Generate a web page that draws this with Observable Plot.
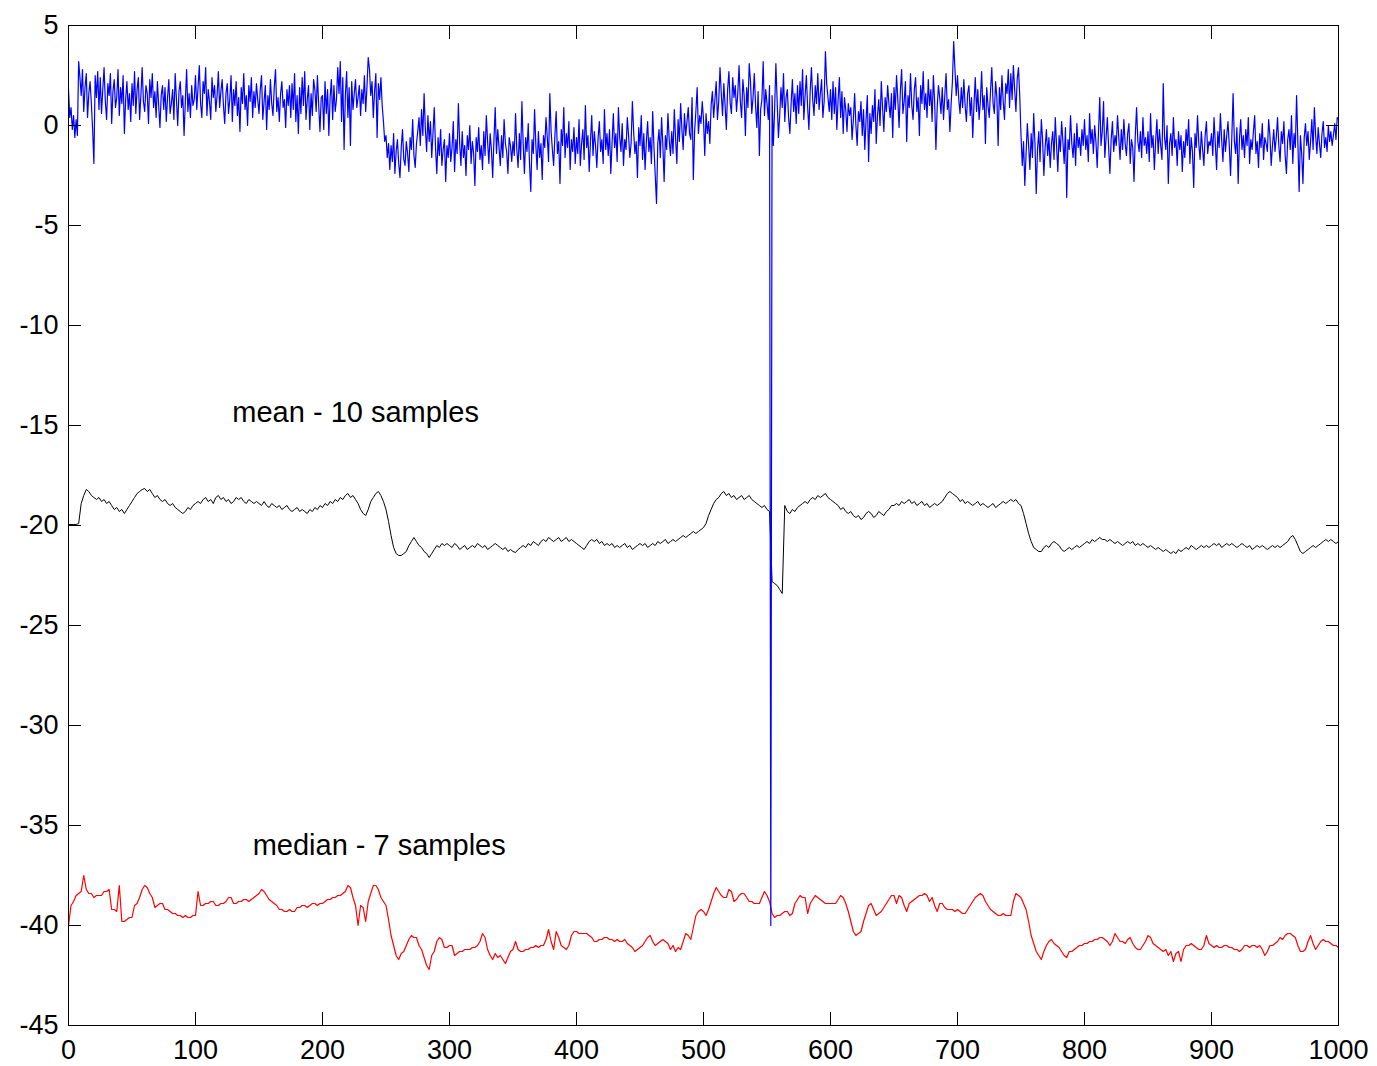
<!DOCTYPE html>
<html><head><meta charset="utf-8">
<script src="https://cdn.jsdelivr.net/npm/d3@7"></script>
<script src="https://cdn.jsdelivr.net/npm/@observablehq/plot@0.6"></script>
<style>html,body{margin:0;padding:0;background:#fff}#chart svg{display:block}</style>
</head><body><div id="chart"></div>
<script>
const xTicks = [0,100,200,300,400,500,600,700,800,900,1000];
const yTicks = [5,0,-5,-10,-15,-20,-25,-30,-35,-40,-45];

// raw signal, one value per sample (0..1000)
const rawSignal = [
1.8,0.4,0.9,-0.2,0.5,-0.6,0.3,-0.5,3.2,2.4,1.5,2.8,0.7,1.9,2.6,0.4,1.6,2.2,1.1,-0.2,-1.9,2.5,1.4,2.7,0.8,
2.4,0.6,1.8,2.9,1.2,0.3,2.1,1.5,2.6,0.1,1.7,2.3,0.9,1.4,2.8,0.5,1.9,1.1,2.5,-0.4,1.3,2.2,0.8,1.6,0.2,
2.1,1.0,2.7,0.6,1.8,2.4,0.3,1.5,2.9,1.2,0.7,2.0,1.6,0.1,2.3,1.4,2.6,0.9,1.7,0.4,2.2,1.0,-0.1,1.5,2.0,
0.8,1.9,0.2,1.4,2.3,0.6,1.1,1.8,0.3,2.6,1.3,0.0,1.7,2.2,0.9,1.5,-0.5,1.2,2.8,0.7,1.6,0.4,2.0,1.0,1.3,
2.5,0.8,1.9,3.0,1.1,0.4,2.2,1.6,2.9,0.5,1.8,1.2,0.3,2.4,1.4,2.0,0.7,1.5,2.7,0.9,1.7,2.3,1.0,0.1,1.6,
2.1,0.6,1.3,2.5,0.2,1.8,1.0,2.2,0.5,1.4,-0.3,1.9,1.1,2.6,0.8,1.5,0.0,2.0,1.2,2.4,0.4,1.7,0.9,2.1,1.3,
0.6,1.8,2.5,0.3,1.2,2.0,-0.2,1.5,0.8,2.3,1.1,0.5,1.9,2.8,0.7,1.4,0.2,1.6,2.2,0.9,1.3,-0.1,1.8,1.0,2.0,
0.4,2.1,0.8,2.6,0.2,1.5,-0.4,1.9,0.6,2.4,1.0,2.7,0.3,1.3,2.0,-0.2,1.6,0.5,2.3,1.8,0.7,2.5,1.0,-0.3,1.4,
1.5,-0.2,2.2,0.6,1.8,-0.5,1.4,2.3,0.3,2.0,0.7,1.3,2.9,1.6,3.2,0.2,2.4,-1.2,1.5,2.7,0.4,1.9,-1.0,2.2,0.8,
1.6,2.3,0.9,1.4,2.0,0.5,1.8,1.1,2.5,0.7,1.9,3.4,2.8,1.5,2.2,0.4,1.7,2.6,-0.6,2.1,1.3,2.4,1.0,0.2,-0.8,
-0.5,-1.6,-0.9,-2.2,-1.0,-1.8,-0.4,-2.4,-1.3,-0.7,-1.9,-2.6,-1.1,-0.2,-1.7,-2.0,-0.8,-1.4,-2.3,-0.6,-1.2,0.3,-1.5,-2.1,-0.9,
-0.3,0.4,-1.0,0.8,-0.5,1.6,-0.2,-1.3,0.5,-0.8,0.2,-1.6,-0.4,0.9,-1.1,-2.4,-0.6,-1.5,-0.2,-2.0,-1.2,-0.7,-2.8,-1.0,-1.6,
-0.4,-1.8,-1.1,0.2,-2.3,-0.7,-1.4,1.1,-0.9,-2.0,-0.3,-1.6,-1.0,-2.5,-0.5,-1.2,0.0,-1.9,-0.8,-1.4,-3.0,-0.6,-1.3,-0.1,-1.7,
-1.0,-2.2,-0.3,-1.5,0.5,-0.8,-1.9,-0.4,-1.2,-2.6,-0.7,0.9,-1.4,-0.2,-1.1,-2.0,-0.5,-1.6,0.3,-0.9,-1.3,-2.4,-0.6,-1.0,-1.8,
-0.8,-1.5,0.6,-1.2,-2.1,-0.4,-1.7,1.2,-0.9,-2.4,-0.6,-1.3,0.1,-1.9,-3.3,-0.7,-1.4,0.8,-1.0,-2.2,-0.3,-1.6,-0.9,-2.7,-0.5,
-1.1,0.4,-0.6,-1.8,1.6,-0.3,-1.2,-2.0,-0.5,0.7,-1.4,-0.8,-2.9,-0.2,-1.0,0.9,-1.6,-0.4,-1.1,0.2,-2.2,-0.7,-1.3,-0.1,-1.9,
-0.6,-1.4,0.3,-2.0,-0.9,-0.2,-1.7,1.0,-1.1,-0.5,-2.3,-0.8,0.5,-1.5,-0.3,-1.0,-2.1,-0.6,0.2,-1.3,-0.7,-1.9,0.8,-1.2,-0.4,
-1.5,-0.2,-2.4,-0.9,0.6,-1.1,-0.4,-1.8,0.9,-0.6,-1.3,0.1,-2.0,-0.7,-1.2,0.4,-0.5,-1.6,-0.9,1.2,-0.3,-1.4,-0.8,-2.6,-0.1,
-1.0,0.5,-1.7,-0.4,-2.2,-0.8,0.2,-1.3,-0.6,-1.9,0.7,-1.1,-2.5,-3.9,-0.9,-0.2,-1.6,0.4,-1.0,-2.8,-0.5,-1.2,0.6,-0.7,-1.5,
-0.3,-1.4,0.8,-0.6,-1.9,0.3,-0.8,1.1,-0.2,-1.2,0.6,-0.5,0.2,0.9,-0.4,-0.7,1.4,-2.7,-0.3,0.7,1.9,-0.4,0.5,0.1,1.2,
0.3,-1.5,0.6,-0.4,0.2,-0.9,1.0,1.7,0.4,1.3,2.2,0.3,1.2,2.9,1.6,0.5,2.1,1.0,-0.2,1.8,2.7,1.1,0.6,2.4,1.4,
2.0,0.7,1.6,3.0,1.2,0.4,2.3,1.5,-0.5,1.9,0.9,3.1,2.2,0.6,1.4,2.6,1.0,-0.1,1.7,-1.5,0.8,1.3,3.2,0.5,1.8,
1.1,0.3,2.0,-40,1.5,-1.0,0.8,3.1,1.2,-0.6,0.5,1.9,0.9,2.6,0.2,1.4,1.8,0.4,-0.4,1.1,2.3,0.7,1.6,0.1,2.0,
0.6,2.2,1.0,2.8,0.3,1.5,2.5,0.9,-0.2,1.7,2.9,1.3,0.5,2.0,1.1,2.6,0.8,1.6,2.3,0.4,1.2,3.7,2.1,1.4,0.7,
1.8,0.3,2.2,0.6,1.9,-0.2,1.3,2.4,0.4,1.7,-0.4,1.4,0.8,-0.3,1.1,0.5,0.9,-0.7,0.3,1.6,0.0,-1.0,0.7,0.2,1.2,
-0.5,0.8,-1.2,0.3,1.5,-1.8,0.6,-0.4,1.0,0.2,1.8,-0.9,0.5,1.3,0.0,2.2,0.9,-0.3,1.4,0.7,2.0,1.1,0.4,1.6,-0.6,
1.9,0.8,2.5,1.3,-0.1,1.7,2.8,0.6,1.2,2.2,-0.8,1.5,0.9,2.6,1.0,0.3,1.8,2.4,0.7,1.4,-0.5,2.0,1.1,2.7,0.8,
1.6,0.4,2.3,1.0,1.8,0.2,2.5,1.2,-1.2,0.9,2.0,1.4,0.6,1.9,0.3,1.5,2.6,0.8,1.3,-0.3,1.1,2.2,4.2,2.8,1.5,
2.5,1.3,0.6,1.9,0.9,2.3,1.0,0.2,1.6,2.0,0.5,1.4,-0.6,1.1,2.4,0.7,1.8,0.3,1.2,2.7,0.8,1.5,-0.9,1.9,1.0,
0.4,1.7,2.9,1.1,0.6,2.2,1.4,-1.0,1.9,0.8,2.5,1.2,0.3,2.1,1.6,2.8,0.9,2.6,1.3,3.0,1.8,0.7,2.3,2.9,1.5,
-0.5,-2.0,-0.8,-3.0,-1.4,0.1,-1.0,-2.2,-0.4,-1.6,0.6,-0.9,-3.4,-1.2,-0.3,-1.8,0.3,-0.7,-2.5,-1.1,-0.2,-1.5,-0.6,-2.1,-0.9,
-0.3,-1.7,0.4,-1.0,-2.3,-0.5,-1.3,0.2,-0.8,-1.9,-0.1,-3.6,-0.7,-1.2,0.5,-0.9,-1.6,-0.4,-2.0,0.1,-1.1,-0.6,-1.5,-0.2,-1.0,
0.3,-1.2,-0.5,-1.8,0.6,-0.9,-0.2,-1.4,0.0,-0.8,-2.1,-0.4,1.4,-1.0,-0.3,1.2,-1.6,-0.6,0.4,-1.1,-2.4,-0.7,0.2,-1.3,-0.5,
-1.0,0.5,-0.6,-1.7,-0.2,-1.2,0.3,-0.9,-1.5,-0.4,0.1,-1.9,-0.7,-1.1,-2.8,-0.5,0.9,-0.8,-1.3,-0.3,-1.6,0.4,-1.0,-0.6,-1.4,
-0.3,-1.8,0.6,-1.1,-0.5,-2.2,-0.8,0.3,-1.4,-0.2,-1.0,-1.7,2.1,-0.6,-1.2,0.0,-2.9,-0.9,-0.4,-1.5,0.4,-1.1,-0.7,-2.0,-0.3,
-1.2,-0.5,-2.3,-0.8,-1.6,-0.2,-1.0,0.3,-1.9,-0.6,-1.3,-3.1,-0.4,-1.1,0.5,-0.9,-1.7,-0.3,-1.2,-2.0,-0.5,0.2,-1.4,-0.8,-1.0,
-0.4,-1.5,0.4,-0.9,-2.2,-0.3,-1.1,0.6,-0.7,-1.8,-0.2,-1.3,-0.5,0.2,-1.0,-2.5,-0.6,1.6,-0.8,-1.4,-0.1,-2.9,-0.7,0.3,-1.2,
-0.5,-1.6,-0.2,-1.0,0.4,-1.9,-0.7,-1.2,-0.3,0.5,-1.4,-0.8,-2.1,-0.4,-1.1,0.1,-1.7,-0.6,-0.9,-1.3,0.3,-0.5,-2.0,-1.0,-0.2,
-1.3,-0.6,0.4,-1.0,-1.8,-0.3,-0.9,0.2,-1.5,-2.4,-0.7,-0.2,-1.2,0.5,-1.9,-0.4,-1.1,1.5,-0.8,-3.3,-0.5,-1.4,-2.9,-0.6,0.1,
-1.0,-0.3,-1.7,-0.8,0.3,-1.2,0.9,-0.5,-1.4,-0.1,-0.9,-1.6,-0.4,0.2,-1.1,-0.6,-1.3,0.0,-0.8,-0.3,-1.0,-0.5,0.1,-0.7,0.4,
0.3
];

// "mean - 10 samples" trace, one value every 2 samples (0..1000)
const filteredStep = 2;
const meanTrace = [
-19.95,-19.95,-19.95,-19.95,-19.9,-18.9,-18.5,-18.2,-18.3,-18.5,-18.6,-18.7,-18.6,-18.8,-18.7,-18.9,-18.8,-19.0,-19.2,-19.1,-19.3,-19.2,-19.4,-19.2,-19.0,
-18.8,-18.6,-18.4,-18.3,-18.2,-18.15,-18.3,-18.2,-18.4,-18.6,-18.5,-18.7,-18.8,-18.7,-18.9,-19.0,-18.9,-19.1,-19.2,-19.3,-19.4,-19.3,-19.1,-19.2,-19.0,
-18.9,-18.8,-18.9,-18.7,-18.6,-18.8,-18.7,-18.9,-18.6,-18.5,-18.7,-18.6,-18.8,-18.7,-18.9,-18.8,-18.6,-18.7,-18.6,-18.8,-18.9,-18.7,-18.8,-18.9,-18.8,
-18.9,-19.0,-18.8,-19.0,-19.1,-18.9,-19.0,-19.1,-19.0,-19.2,-19.1,-19.0,-19.2,-19.3,-19.2,-19.1,-19.3,-19.2,-19.3,-19.4,-19.2,-19.3,-19.1,-19.2,-19.0,
-19.1,-18.9,-19.0,-18.8,-18.9,-18.7,-18.8,-18.6,-18.7,-18.5,-18.4,-18.6,-18.5,-18.7,-18.9,-19.2,-19.4,-19.5,-19.2,-18.8,-18.6,-18.4,-18.3,-18.5,-18.8,
-19.2,-19.8,-20.5,-21.1,-21.4,-21.5,-21.5,-21.4,-21.3,-21.0,-20.8,-20.6,-20.8,-21.0,-21.1,-21.3,-21.4,-21.6,-21.4,-21.2,-21.0,-21.1,-20.9,-21.0,-20.9,
-21.0,-21.1,-20.9,-21.0,-21.2,-21.1,-21.0,-21.2,-21.1,-21.0,-21.1,-20.9,-21.0,-21.1,-21.0,-21.2,-21.1,-21.0,-20.9,-21.0,-21.1,-21.2,-21.1,-21.3,-21.2,
-21.3,-21.35,-21.2,-21.1,-21.0,-21.1,-20.9,-21.0,-20.8,-20.9,-21.0,-20.8,-20.7,-20.8,-20.6,-20.7,-20.8,-20.7,-20.6,-20.8,-20.7,-20.6,-20.8,-20.7,-20.8,
-20.9,-21.0,-21.1,-21.2,-21.0,-20.8,-20.7,-20.8,-20.7,-20.9,-20.8,-21.0,-20.9,-21.0,-20.9,-21.1,-21.0,-21.1,-21.0,-20.9,-21.1,-21.0,-21.2,-21.1,-21.0,
-20.9,-21.0,-20.9,-21.1,-21.0,-20.9,-21.0,-20.8,-20.9,-20.8,-20.7,-20.9,-20.8,-20.7,-20.8,-20.7,-20.6,-20.5,-20.6,-20.5,-20.4,-20.3,-20.4,-20.3,-20.2,
-20.1,-19.9,-19.5,-19.2,-18.9,-18.7,-18.6,-18.4,-18.3,-18.5,-18.4,-18.6,-18.5,-18.7,-18.6,-18.5,-18.7,-18.6,-18.5,-18.7,-18.8,-18.9,-19.0,-19.1,-19.0,
-19.2,-19.3,-22.8,-22.9,-23.0,-23.2,-23.4,-19.0,-19.3,-19.4,-19.2,-19.3,-19.1,-19.0,-18.9,-18.8,-18.9,-18.7,-18.6,-18.7,-18.5,-18.6,-18.5,-18.4,-18.6,
-18.7,-18.8,-18.9,-19.0,-19.2,-19.1,-19.3,-19.4,-19.3,-19.5,-19.6,-19.5,-19.7,-19.6,-19.4,-19.3,-19.4,-19.6,-19.5,-19.3,-19.4,-19.5,-19.3,-19.2,-19.0,
-19.0,-18.9,-19.0,-18.8,-18.9,-18.8,-18.7,-18.9,-18.8,-19.0,-18.9,-18.8,-19.0,-18.9,-19.1,-19.0,-18.9,-19.0,-18.9,-18.8,-18.6,-18.4,-18.3,-18.4,-18.5,
-18.6,-18.8,-18.7,-18.9,-18.8,-18.9,-19.0,-18.9,-18.8,-19.0,-18.9,-19.0,-19.1,-19.0,-18.9,-19.1,-19.0,-18.9,-18.8,-18.9,-18.8,-18.7,-18.8,-18.7,-18.9,
-19.0,-19.4,-19.9,-20.4,-20.8,-21.1,-21.2,-21.3,-21.3,-21.1,-21.0,-21.1,-20.9,-20.8,-20.9,-21.0,-21.2,-21.3,-21.2,-21.1,-21.2,-21.1,-21.0,-21.1,-21.0,
-20.9,-20.8,-20.9,-20.7,-20.8,-20.7,-20.6,-20.7,-20.7,-20.8,-20.7,-20.8,-20.9,-20.8,-20.9,-21.0,-20.9,-20.8,-20.9,-20.8,-21.0,-20.9,-21.0,-20.9,-21.0,
-21.1,-21.0,-21.1,-21.2,-21.1,-21.2,-21.3,-21.2,-21.3,-21.4,-21.3,-21.4,-21.2,-21.3,-21.2,-21.1,-21.2,-21.0,-21.1,-21.2,-21.1,-21.0,-21.1,-21.0,-21.1,
-21.0,-20.9,-21.0,-20.9,-21.1,-21.0,-20.9,-21.0,-20.9,-21.0,-21.1,-21.0,-20.9,-21.0,-21.1,-21.0,-21.2,-21.1,-21.0,-21.1,-21.0,-21.1,-21.2,-21.1,-21.0,
-21.1,-21.0,-21.1,-21.0,-20.9,-20.8,-20.6,-20.5,-20.7,-21.0,-21.3,-21.4,-21.3,-21.2,-21.1,-21.0,-21.1,-21.0,-20.9,-20.8,-20.7,-20.8,-20.7,-20.8,-20.9,
-20.8
];

// "median - 7 samples" trace, one value every 2 samples (0..1000)
const medianTrace = [
-40.0,-39.0,-38.8,-38.5,-38.4,-38.3,-37.5,-38.2,-38.4,-38.4,-38.6,-38.5,-38.5,-38.5,-38.3,-38.3,-38.2,-39.2,-39.2,-39.3,-38.0,-39.8,-39.8,-39.7,-39.6,
-39.6,-39.0,-38.9,-38.6,-38.2,-38.0,-38.1,-38.4,-38.6,-39.1,-39.0,-38.9,-38.9,-39.2,-39.2,-39.3,-39.4,-39.4,-39.5,-39.5,-39.6,-39.5,-39.6,-39.6,-39.5,
-39.5,-38.3,-39.0,-39.0,-38.9,-38.9,-38.8,-38.8,-39.0,-39.0,-38.9,-38.9,-38.8,-38.6,-38.6,-38.9,-38.9,-38.8,-38.8,-38.7,-38.7,-38.8,-38.7,-38.6,-38.5,
-38.4,-38.2,-38.3,-38.5,-38.7,-38.8,-38.9,-39.0,-39.2,-39.2,-39.3,-39.3,-39.2,-39.3,-39.3,-39.1,-39.1,-39.0,-39.0,-39.1,-39.0,-38.9,-38.9,-39.0,-38.9,
-38.9,-38.8,-38.7,-38.7,-38.6,-38.6,-38.5,-38.5,-38.4,-38.3,-38.0,-38.1,-38.6,-39.0,-40.0,-39.0,-39.1,-39.8,-38.8,-38.4,-38.0,-38.0,-38.2,-38.6,-38.8,
-39.0,-39.7,-40.5,-41.0,-41.5,-41.7,-41.4,-41.3,-41.0,-40.7,-40.5,-40.6,-40.6,-41.0,-41.2,-41.6,-42.0,-42.2,-41.5,-41.3,-40.8,-40.6,-40.7,-41.1,-41.1,
-41.0,-41.0,-41.5,-41.4,-41.3,-41.3,-41.2,-41.2,-41.2,-41.1,-41.1,-41.0,-40.8,-40.4,-40.6,-41.2,-41.5,-41.7,-41.4,-41.6,-41.5,-41.7,-41.9,-41.6,-41.3,
-41.2,-40.8,-41.2,-41.3,-41.3,-41.2,-41.2,-41.1,-41.1,-41.0,-41.1,-41.0,-41.0,-40.7,-40.2,-40.8,-41.2,-40.3,-40.6,-41.0,-41.1,-41.2,-41.0,-40.5,-40.3,
-40.3,-40.4,-40.4,-40.4,-40.4,-40.5,-40.6,-40.8,-40.8,-40.7,-40.7,-40.6,-40.6,-40.7,-40.7,-40.8,-40.7,-40.8,-40.8,-40.7,-40.9,-41.0,-41.1,-41.3,-41.2,
-41.1,-41.0,-40.8,-40.6,-40.5,-40.8,-41.0,-40.9,-40.8,-40.7,-40.8,-40.9,-41.2,-41.0,-41.3,-41.1,-41.2,-40.8,-40.4,-40.5,-40.7,-40.1,-39.5,-39.3,-39.2,
-39.3,-39.5,-39.2,-38.8,-38.4,-38.1,-38.3,-38.5,-38.6,-38.6,-38.2,-38.3,-38.8,-38.7,-38.5,-38.4,-38.4,-38.6,-38.8,-38.8,-38.9,-38.9,-38.9,-38.6,-38.3,
-38.5,-38.8,-39.4,-39.6,-39.5,-39.5,-39.4,-39.3,-39.3,-39.5,-39.4,-38.9,-38.7,-38.5,-38.6,-38.6,-39.4,-38.9,-38.7,-38.5,-38.6,-38.7,-38.8,-38.9,-38.9,
-38.9,-38.9,-38.9,-38.7,-38.5,-38.6,-38.9,-39.3,-39.8,-40.3,-40.5,-40.4,-40.3,-39.8,-39.4,-39.0,-38.9,-39.2,-39.5,-39.4,-39.3,-39.1,-38.9,-38.7,-38.5,
-38.5,-38.9,-38.5,-38.6,-39.0,-39.3,-38.9,-38.8,-38.7,-38.6,-38.5,-38.5,-38.4,-38.5,-38.8,-38.6,-39.0,-39.3,-38.9,-38.9,-39.1,-39.2,-39.2,-39.2,-39.3,
-39.2,-39.3,-39.4,-39.4,-39.2,-39.0,-38.8,-38.6,-38.5,-38.4,-38.5,-38.8,-39.0,-39.2,-39.3,-39.4,-39.5,-39.5,-39.4,-39.5,-39.5,-39.5,-38.8,-38.4,-38.5,
-38.6,-38.9,-39.2,-39.8,-40.5,-40.9,-41.3,-41.5,-41.7,-41.3,-41.0,-40.8,-40.7,-40.9,-41.0,-41.1,-41.3,-41.5,-41.6,-41.3,-41.3,-41.2,-41.1,-41.0,-41.0,
-40.9,-40.9,-40.8,-40.8,-40.7,-40.7,-40.6,-40.6,-40.7,-40.8,-41.0,-40.8,-40.4,-40.6,-40.8,-40.8,-40.9,-40.7,-40.6,-40.9,-41.1,-41.2,-41.2,-41.0,-40.8,
-40.5,-40.6,-40.9,-41.0,-41.1,-41.2,-41.3,-41.2,-41.5,-41.3,-41.8,-41.4,-41.3,-41.8,-41.2,-41.0,-41.0,-40.9,-41.0,-41.1,-41.2,-41.2,-41.0,-40.5,-40.9,
-41.0,-41.1,-41.0,-41.1,-41.1,-41.0,-41.0,-41.1,-41.1,-41.2,-41.2,-41.3,-41.2,-41.0,-41.0,-41.1,-41.0,-41.0,-41.1,-41.0,-41.2,-41.5,-41.3,-41.0,-41.0,
-40.9,-40.8,-40.6,-40.7,-40.5,-40.4,-40.4,-40.5,-40.6,-41.0,-41.3,-41.3,-41.2,-40.8,-40.5,-40.9,-41.2,-41.0,-40.8,-40.7,-40.8,-40.8,-40.9,-41.0,-41.0,
-41.1
];

const labelTexts = ["mean - 10 samples", "median - 7 samples"];
const labelX = [129, 145];
const labelY = [-14.35, -36.0];

const raw = rawSignal.map((v, i) => ({x: i, y: v}));
const meanData = meanTrace.map((v, i) => ({x: i * filteredStep, y: v}));
const medianData = medianTrace.map((v, i) => ({x: i * filteredStep, y: v}));
const labels = labelTexts.map((t, i) => ({text: t, x: labelX[i], y: labelY[i]}));

const font = "Arial, 'Liberation Sans', sans-serif";
const chart = Plot.plot({
  width: 1377,
  height: 1066,
  marginLeft: 68,
  marginRight: 39,
  marginTop: 25,
  marginBottom: 41,
  x: {domain: [0, 1000], label: null},
  y: {domain: [-45, 5], label: null},
  style: {fontFamily: font, background: "#fff", color: "#000", overflow: "visible"},
  marks: [
    Plot.line(meanData, {x: "x", y: "y", stroke: "#000000", strokeWidth: 1}),
    Plot.line(medianData, {x: "x", y: "y", stroke: "#ff0000", strokeWidth: 1.2}),
    Plot.line(raw, {x: "x", y: "y", stroke: "#0000ff", strokeWidth: 1.2}),
    Plot.text(labels, {x: "x", y: "y", text: "text", textAnchor: "start", fontSize: 29, fill: "#000"}),
    Plot.frame({stroke: "#000", strokeWidth: 1}),
    Plot.axisX(xTicks, {anchor: "bottom", label: null, tickSize: 0, tickPadding: 14, tickFormat: d => String(d), fontSize: 27}),
    Plot.axisX(xTicks, {anchor: "bottom", label: null, tickSize: -13, tickFormat: () => ""}),
    Plot.axisX(xTicks, {anchor: "top", label: null, tickSize: -13, tickFormat: () => ""}),
    Plot.axisY(yTicks, {anchor: "left", label: null, tickSize: 0, tickPadding: 10, tickFormat: d => String(d), fontSize: 27}),
    Plot.axisY(yTicks, {anchor: "left", label: null, tickSize: -13, tickFormat: () => ""}),
    Plot.axisY(yTicks, {anchor: "right", label: null, tickSize: -13, tickFormat: () => ""})
  ]
});
document.getElementById("chart").appendChild(chart);
</script>
</body></html>
